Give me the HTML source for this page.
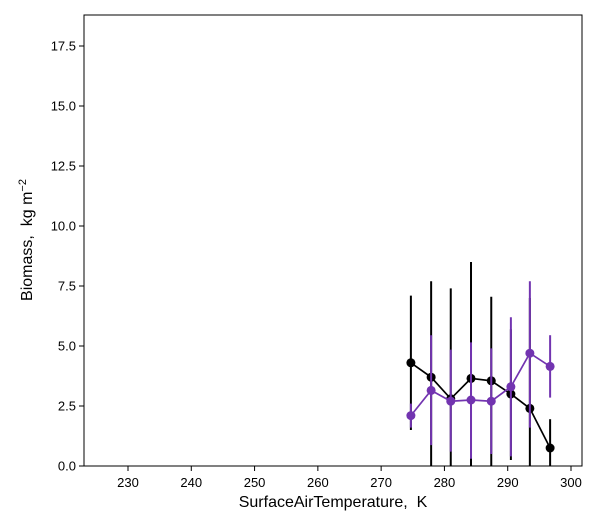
<!DOCTYPE html>
<html><head><meta charset="utf-8"><style>
body{margin:0;background:#fff;font-family:"Liberation Sans",sans-serif}
svg text{font-family:"Liberation Sans",sans-serif;white-space:pre}
</style></head><body>
<svg id="chart" width="600" height="525" xmlns="http://www.w3.org/2000/svg">
<defs><clipPath id="clip"><rect x="84" y="15" width="498" height="451"/></clipPath></defs>
<g id="marks" clip-path="url(#clip)"></g>
<rect x="84" y="15" width="498" height="451" fill="none" stroke="#000" stroke-width="1"/>
<g id="axes"></g>
<text x="333" y="507" font-size="16" text-anchor="middle">SurfaceAirTemperature,&#160;&#160;K</text>
<text transform="translate(32,240) rotate(-90)" font-size="16" text-anchor="middle">Biomass,&#160;&#160;kg m<tspan dy="-6" font-size="11">−2</tspan></text>
</svg>
<script>
const xValues=[274.7,277.9,281.0,284.2,287.4,290.5,293.5,296.7];
const blackValues=[4.3,3.7,2.8,3.65,3.55,3.0,2.4,0.75];
const blackLow=[1.5,-0.3,-0.1,-0.2,0.0,0.25,-1.0,-0.5];
const blackHigh=[7.1,7.7,7.4,8.5,7.05,5.7,7.0,1.95];
const purpleValues=[2.1,3.15,2.7,2.75,2.7,3.3,4.7,4.15];
const purpleLow=[1.6,0.87,0.6,0.3,0.5,0.4,1.6,2.85];
const purpleHigh=[2.6,5.45,4.85,5.15,4.9,6.2,7.7,5.45];
const xTicks=[230,240,250,260,270,280,290,300];
const yTicks=[0,2.5,5,7.5,10,12.5,15,17.5];
const yTickLabels=["0.0","2.5","5.0","7.5","10.0","12.5","15.0","17.5"];
const NS="http://www.w3.org/2000/svg";
const xs=v=>128+(v-230)*(443/70);
const ys=v=>466-v*24;
function mk(t,a,p){const e=document.createElementNS(NS,t);for(const k in a)e.setAttribute(k,a[k]);p.appendChild(e);return e;}
const marks=document.getElementById('marks'),axes=document.getElementById('axes');
xTicks.forEach(t=>{
 const l=mk('line',{x1:xs(t),x2:xs(t),y1:466,y2:471,stroke:'#000'},axes);
 
 
 const tx=mk('text',{x:xs(t),y:487,'font-size':13,'text-anchor':'middle'},axes);tx.textContent=t;
 
 
});
yTicks.forEach((t,i)=>{
 const l=mk('line',{x1:79,x2:84,y1:ys(t),y2:ys(t),stroke:'#000'},axes);
 
 
 const tx=mk('text',{x:76,y:ys(t)+4.5,'font-size':13,'text-anchor':'end'},axes);tx.textContent=yTickLabels[i];
 
 
});
function series(vals,lo,hi,color,name){
 vals.forEach((v,i)=>{
  const e=mk('line',{x1:xs(xValues[i]),x2:xs(xValues[i]),y1:ys(lo[i]),y2:ys(hi[i]),stroke:color,'stroke-width':2},marks);
  
  
 });
 const p=mk('polyline',{points:vals.map((v,i)=>xs(xValues[i])+','+ys(v)).join(' '),fill:'none',stroke:color,'stroke-width':1.7},marks);
 
 
 vals.forEach((v,i)=>{
  const c=mk('circle',{cx:xs(xValues[i]),cy:ys(v),r:4.5,fill:color},marks);
  
  
 });
}
series(blackValues,blackLow,blackHigh,'#000','black-series');
series(purpleValues,purpleLow,purpleHigh,'#7234b0','purple-series');
</script>
</body></html>
